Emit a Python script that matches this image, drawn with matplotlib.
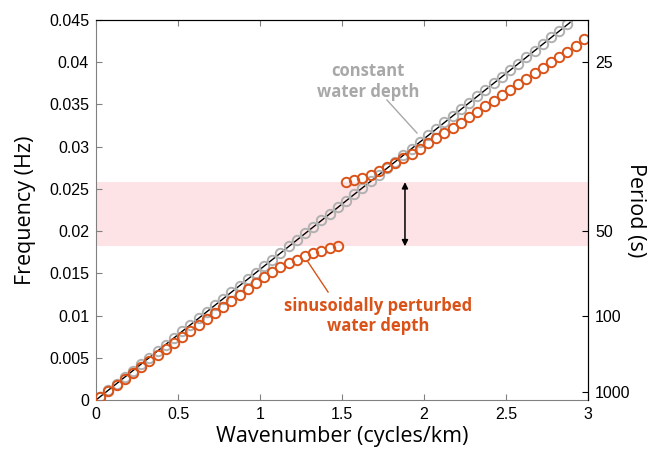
import matplotlib
matplotlib.use("Agg")
import matplotlib.pyplot as plt

# wavenumber samples (cycles/km)
k_gray = [0.025, 0.075, 0.125, 0.175, 0.225, 0.275, 0.325, 0.375, 0.425, 0.475,
          0.525, 0.575, 0.625, 0.675, 0.725, 0.775, 0.825, 0.875, 0.925, 0.975,
          1.025, 1.075, 1.125, 1.175, 1.225, 1.275, 1.325, 1.375, 1.425, 1.475,
          1.525, 1.575, 1.625, 1.675, 1.725, 1.775, 1.825, 1.875, 1.925, 1.975,
          2.025, 2.075, 2.125, 2.175, 2.225, 2.275, 2.325, 2.375, 2.425, 2.475,
          2.525, 2.575, 2.625, 2.675, 2.725, 2.775, 2.825, 2.875]
f_gray = [0.00039, 0.00116, 0.00193, 0.00271, 0.00348, 0.00425, 0.00503, 0.00580, 0.00657, 0.00735,
          0.00812, 0.00890, 0.00967, 0.01044, 0.01122, 0.01199, 0.01276, 0.01354, 0.01431, 0.01508,
          0.01586, 0.01663, 0.01740, 0.01818, 0.01895, 0.01972, 0.02050, 0.02127, 0.02204, 0.02282,
          0.02359, 0.02437, 0.02514, 0.02591, 0.02669, 0.02746, 0.02823, 0.02901, 0.02978, 0.03055,
          0.03133, 0.03210, 0.03287, 0.03365, 0.03442, 0.03519, 0.03597, 0.03674, 0.03751, 0.03829,
          0.03906, 0.03984, 0.04061, 0.04138, 0.04216, 0.04293, 0.04370, 0.04448]

# analytic constant depth line
k_line = [0.0, 3.0]
f_line = [0.0, 0.0464]

# perturbed depth, lower branch
k_low = [0.025, 0.075, 0.125, 0.175, 0.225, 0.275, 0.325, 0.375, 0.425, 0.475,
         0.525, 0.575, 0.625, 0.675, 0.725, 0.775, 0.825, 0.875, 0.925, 0.975,
         1.025, 1.075, 1.125, 1.175, 1.225, 1.275, 1.325, 1.375, 1.425, 1.475]
f_low = [0.00036, 0.00107, 0.00179, 0.00250, 0.00322, 0.00393, 0.00465, 0.00536, 0.00608, 0.00679,
         0.00751, 0.00822, 0.00894, 0.00965, 0.01036, 0.01107, 0.01178, 0.01248, 0.01318, 0.01386,
         0.01452, 0.01515, 0.01570, 0.01618, 0.01660, 0.01700, 0.01737, 0.01770, 0.01797, 0.01818]

# perturbed depth, upper branch
k_up = [1.525, 1.575, 1.625, 1.675, 1.725, 1.775, 1.825, 1.875, 1.925, 1.975,
        2.025, 2.075, 2.125, 2.175, 2.225, 2.275, 2.325, 2.375, 2.425, 2.475,
        2.525, 2.575, 2.625, 2.675, 2.725, 2.775, 2.825, 2.875, 2.925, 2.975]
f_up = [0.02580, 0.02603, 0.02635, 0.02670, 0.02713, 0.02760, 0.02810, 0.02862, 0.02918, 0.02977,
        0.03038, 0.03099, 0.03161, 0.03223, 0.03286, 0.03349, 0.03413, 0.03477, 0.03542, 0.03607,
        0.03672, 0.03737, 0.03802, 0.03867, 0.03932, 0.03997, 0.04062, 0.04127, 0.04195, 0.04270]

gap = [0.0182, 0.0258]
periods = [25, 50, 100, 1000]

orange = '#d95319'
gray = '#b0b0b0'
font = ['Open Sans', 'DejaVu Sans']
tickfont = ['Liberation Sans', 'DejaVu Sans']

fig = plt.figure(figsize=(6.5, 4.57), dpi=100)
ax = fig.add_axes([0.1477, 0.1247, 0.7569, 0.8315])

ax.axhspan(gap[0], gap[1], color='#fde3e5', lw=0, zorder=0)
ax.plot(k_line, f_line, '-', color='k', lw=1.0, zorder=1)
ax.plot(k_gray, f_gray, 'o', mfc='none', mec=gray, ms=6.8, mew=1.4, zorder=2)
ax.plot(k_low, f_low, 'o', mfc='none', mec=orange, ms=6.8, mew=1.4, zorder=3)
ax.plot(k_up, f_up, 'o', mfc='none', mec=orange, ms=6.8, mew=1.4, zorder=3)

ax.annotate('', xy=(1.884, gap[0]), xytext=(1.884, gap[1]),
            arrowprops=dict(arrowstyle='<|-|>', color='k', lw=1.1,
                            mutation_scale=9, shrinkA=0, shrinkB=0))

# labels on the curves
ax.text(1.66, 0.0377, 'constant\nwater depth', color='#a8a8a8', fontsize=12,
        fontweight='bold', family=font, ha='center', va='center', linespacing=1.2)
ax.plot([1.774, 1.957], [0.03553, 0.03162], color='#a8a8a8', lw=1.0)
ax.text(1.72, 0.00995, 'sinusoidally perturbed\nwater depth', color=orange, fontsize=12,
        fontweight='bold', family=font, ha='center', va='center', linespacing=1.2)
ax.plot([1.293, 1.415], [0.01634, 0.01279], color=orange, lw=1.0)

ax.set_xlim(0, 3)
ax.set_ylim(0, 0.045)
ax.set_xticks([0, 0.5, 1, 1.5, 2, 2.5, 3])
ax.set_xticklabels(['0', '0.5', '1', '1.5', '2', '2.5', '3'], family=tickfont, fontsize=11.5)
yt = [0, 0.005, 0.01, 0.015, 0.02, 0.025, 0.03, 0.035, 0.04, 0.045]
ax.set_yticks(yt)
ax.set_yticklabels(['0', '0.005', '0.01', '0.015', '0.02', '0.025', '0.03', '0.035', '0.04', '0.045'],
                   family=tickfont, fontsize=11.5)
ax.tick_params(direction='in', length=4, color='#808080', top=True, pad=5)
for s in ['left', 'bottom']:
    ax.spines[s].set_color('#808080')
for s in ['top', 'right']:
    ax.spines[s].set_color('k')
ax.set_xlabel('Wavenumber (cycles/km)', family=font, fontsize=15.5, labelpad=3)
ax.set_ylabel('Frequency (Hz)', family=font, fontsize=15.5, labelpad=9)

ax2 = ax.twinx()
ax2.set_ylim(0, 0.045)
ax2.set_yticks([1.0 / p for p in periods])
ax2.set_yticklabels([str(p) for p in periods], family=tickfont, fontsize=11.5)
ax2.tick_params(direction='in', length=4, color='k', pad=5)
ax2.set_ylabel('Period (s)', family=font, fontsize=15.5, rotation=270, labelpad=11)
for s in ['left', 'bottom']:
    ax2.spines[s].set_visible(False)

fig.savefig('out.png', dpi=100)
